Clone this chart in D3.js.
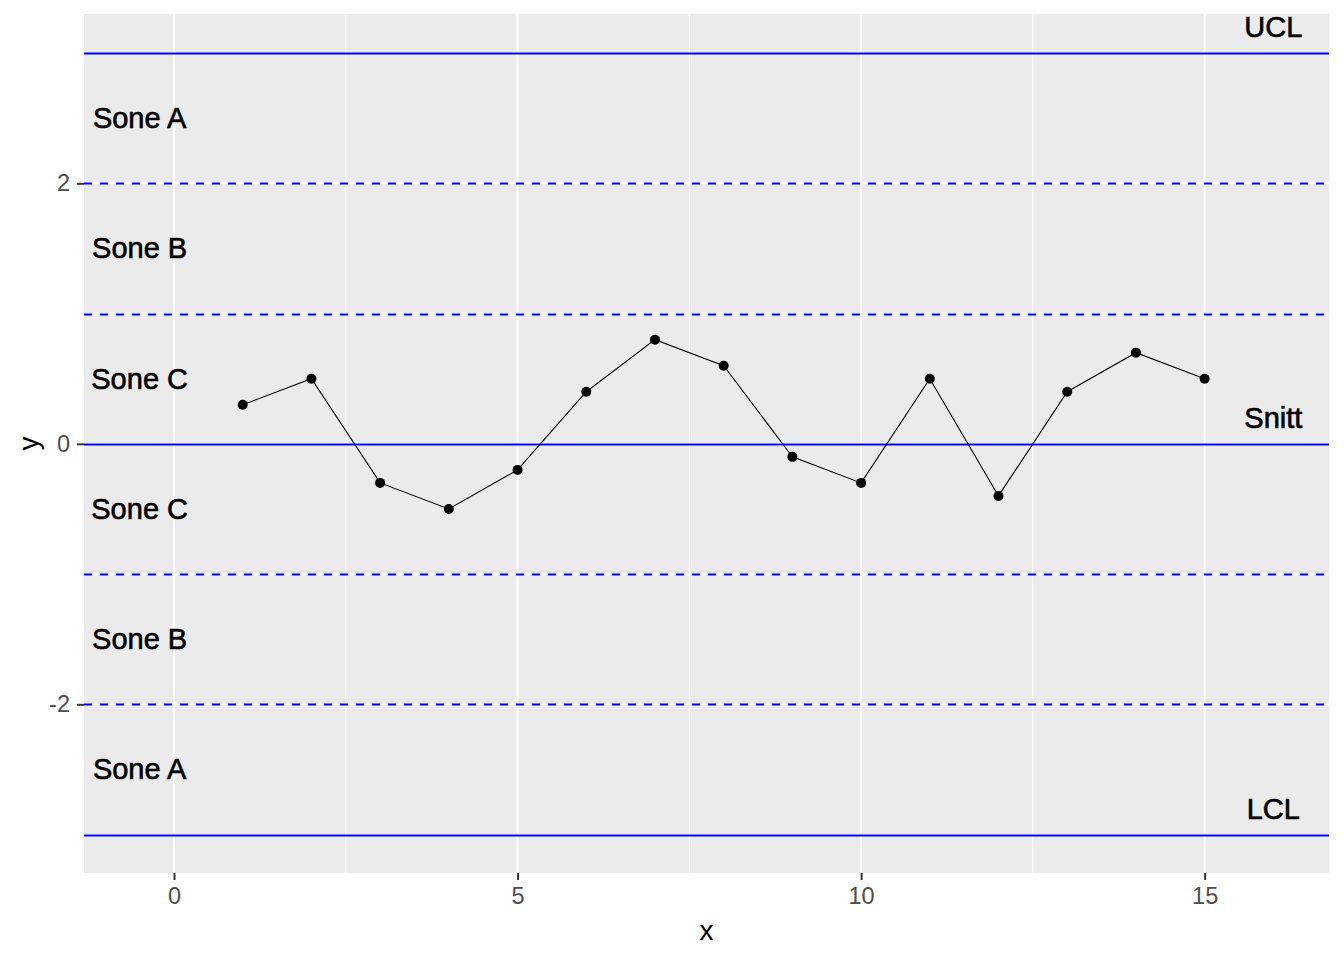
<!DOCTYPE html>
<html>
<head>
<meta charset="utf-8">
<script src="https://cdn.jsdelivr.net/npm/d3@7"></script>
<style>
  html, body { margin: 0; padding: 0; background: #ffffff; }
  svg { display: block; font-family: Arial, "Liberation Sans", sans-serif; }
</style>
</head>
<body>
<svg id="chart" width="1344" height="960"></svg>
<script>
// ---- data ----
const xValues = [1, 2, 3, 4, 5, 6, 7, 8, 9, 10, 11, 12, 13, 14, 15];
const yValues = [0.3, 0.5, -0.3, -0.5, -0.2, 0.4, 0.8, 0.6, -0.1, -0.3, 0.5, -0.4, 0.4, 0.7, 0.5];
const solidLines = [3, 0, -3];
const dashedLines = [2, 1, -1, -2];
const zoneLabels = ["Sone A", "Sone B", "Sone C", "Sone C", "Sone B", "Sone A"];
const zoneLabelY = [2.5, 1.5, 0.5, -0.5, -1.5, -2.5];
const zoneLabelX = -0.5;
const limitLabels = ["UCL", "Snitt", "LCL"];
const limitLabelY = [3.2, 0.2, -2.8];
const limitLabelX = 16;
const xTicks = [0, 5, 10, 15];
const xMinor = [2.5, 7.5, 12.5];
const yTicks = [-2, 0, 2];
const yMinor = [-3, -1, 1, 3];

// ---- layout ----
const svg = d3.select("#chart");
const panel = { left: 84, right: 1329, top: 14, bottom: 873 };
const x = d3.scaleLinear().domain([-1.31, 16.81]).range([panel.left, panel.right]);
const y = d3.scaleLinear().domain([-3.295, 3.30]).range([panel.bottom, panel.top]);

// panel background
svg.append("rect")
  .attr("x", panel.left).attr("y", panel.top)
  .attr("width", panel.right - panel.left).attr("height", panel.bottom - panel.top)
  .attr("fill", "#ebebeb");

const g = svg.append("g");

// grid
g.selectAll(".xminor").data(xMinor).enter().append("line")
  .attr("x1", d => x(d)).attr("x2", d => x(d))
  .attr("y1", panel.top).attr("y2", panel.bottom)
  .attr("stroke", "#ffffff").attr("stroke-width", 1);
g.selectAll(".yminor").data(yMinor).enter().append("line")
  .attr("y1", d => y(d)).attr("y2", d => y(d))
  .attr("x1", panel.left).attr("x2", panel.right)
  .attr("stroke", "#ffffff").attr("stroke-width", 1);
g.selectAll(".xmajor").data(xTicks).enter().append("line")
  .attr("x1", d => x(d)).attr("x2", d => x(d))
  .attr("y1", panel.top).attr("y2", panel.bottom)
  .attr("stroke", "#ffffff").attr("stroke-width", 2);
g.selectAll(".ymajor").data(yTicks).enter().append("line")
  .attr("y1", d => y(d)).attr("y2", d => y(d))
  .attr("x1", panel.left).attr("x2", panel.right)
  .attr("stroke", "#ffffff").attr("stroke-width", 2);

// control lines
g.selectAll(".solid").data(solidLines).enter().append("line")
  .attr("x1", panel.left).attr("x2", panel.right)
  .attr("y1", d => Math.round(y(d)) + 0.5).attr("y2", d => Math.round(y(d)) + 0.5)
  .attr("stroke", "#0000ff").attr("stroke-width", 2);
g.selectAll(".dashed").data(dashedLines).enter().append("line")
  .attr("x1", panel.left).attr("x2", panel.right)
  .attr("y1", d => Math.round(y(d)) + 0.5).attr("y2", d => Math.round(y(d)) + 0.5)
  .attr("stroke", "#0000ff").attr("stroke-width", 2)
  .attr("stroke-dasharray", "8,8");

// data line + points
const pts = xValues.map((d, i) => [d, yValues[i]]);
g.append("path")
  .datum(pts)
  .attr("fill", "none")
  .attr("stroke", "#000000")
  .attr("stroke-width", 1.1)
  .attr("d", d3.line().x(d => x(d[0])).y(d => y(d[1])));
g.selectAll(".pt").data(pts).enter().append("circle")
  .attr("cx", d => x(d[0])).attr("cy", d => y(d[1]))
  .attr("r", 5).attr("fill", "#000000");

// labels
const labelStyle = sel => sel
  .attr("text-anchor", "middle")
  .attr("dominant-baseline", "central")
  .attr("font-size", 29)
  .attr("fill", "#000000")
  .attr("stroke", "#000000")
  .attr("stroke-width", 0.6);
g.selectAll(".zone").data(zoneLabels).enter().append("text")
  .attr("x", x(zoneLabelX))
  .attr("y", (d, i) => y(zoneLabelY[i]))
  .text(d => d)
  .call(labelStyle);
g.selectAll(".limit").data(limitLabels).enter().append("text")
  .attr("x", x(limitLabelX))
  .attr("y", (d, i) => y(limitLabelY[i]))
  .text(d => d)
  .call(labelStyle);

// axes
const xAxis = svg.append("g")
  .attr("transform", `translate(0,${panel.bottom})`)
  .call(d3.axisBottom(x).tickValues(xTicks).tickSize(7).tickPadding(7).tickFormat(d3.format("d")));
const yAxis = svg.append("g")
  .attr("transform", `translate(${panel.left},0)`)
  .call(d3.axisLeft(y).tickValues(yTicks).tickSize(7).tickPadding(7).tickFormat(d => d < 0 ? "-" + Math.abs(d) : d));
[xAxis, yAxis].forEach(a => {
  a.select(".domain").remove();
  a.selectAll(".tick line").attr("stroke", "#333333").attr("stroke-width", 2);
  a.selectAll(".tick text")
    .attr("fill", "#4d4d4d")
    .attr("font-size", 23.5)
    .attr("font-family", "Arial, 'Liberation Sans', sans-serif");
});

// axis titles
svg.append("text")
  .attr("x", (panel.left + panel.right) / 2)
  .attr("y", 940)
  .attr("text-anchor", "middle")
  .attr("font-size", 28)
  .attr("fill", "#000000")
  .text("x");
svg.append("text")
  .attr("transform", `translate(38,${(panel.top + panel.bottom) / 2}) rotate(-90)`)
  .attr("text-anchor", "middle")
  .attr("font-size", 28)
  .attr("fill", "#000000")
  .text("y");
</script>
</body>
</html>
